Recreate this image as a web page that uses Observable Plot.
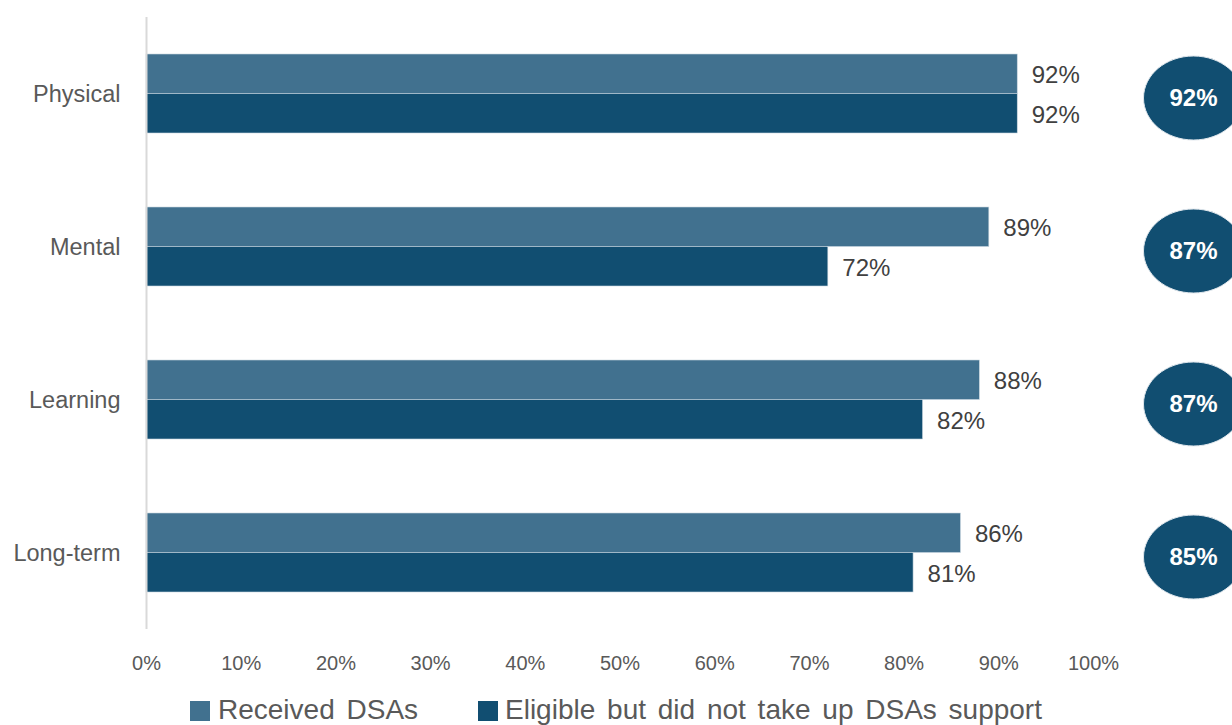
<!DOCTYPE html>
<html>
<head>
<meta charset="utf-8">
<script src="https://cdn.jsdelivr.net/npm/d3@7"></script>
<script src="https://cdn.jsdelivr.net/npm/@observablehq/plot@0.6"></script>
<style>
  html, body { margin: 0; padding: 0; background: #fff; overflow: hidden; }
  #wrap { position: relative; width: 1232px; height: 725px; font-family: "Liberation Sans", Arial, sans-serif; }
  #legend { position: absolute; left: 0; top: 690px; width: 1232px; height: 40px; color: #595959; font-size: 28px; word-spacing: 4px; }
  #legend .sw { position: absolute; top: 11px; width: 20px; height: 20px; }
  #legend .lb { position: absolute; top: 0; line-height: 40px; white-space: nowrap; }
</style>
</head>
<body>
<div id="wrap">
  <div id="chart"></div>
  <div id="legend"></div>
</div>
<script>
const categories = ["Physical", "Mental", "Learning", "Long-term"];
const received = [92, 89, 88, 86];
const eligible = [92, 72, 82, 81];
const overall = [92, 87, 87, 85];
const seriesNames = ["Received DSAs", "Eligible but did not take up DSAs support"];
const seriesColors = ["#41718F", "#114E71"];
const xTicks = [0, 10, 20, 30, 40, 50, 60, 70, 80, 90, 100];

const rows = categories.map((c, i) => ({category: c, received: received[i], eligible: eligible[i], overall: overall[i]}));

const rx = 50, ry = 42, k = 0.5523;
const ellipse = {
  draw(ctx) {
    ctx.moveTo(rx, 0);
    ctx.bezierCurveTo(rx, ry * k, rx * k, ry, 0, ry);
    ctx.bezierCurveTo(-rx * k, ry, -rx, ry * k, -rx, 0);
    ctx.bezierCurveTo(-rx, -ry * k, -rx * k, -ry, 0, -ry);
    ctx.bezierCurveTo(rx * k, -ry, rx, -ry * k, rx, 0);
    ctx.closePath();
  }
};

const plot = Plot.plot({
  width: 1232,
  height: 690,
  marginTop: 17,
  marginBottom: 61,
  marginLeft: 146,
  marginRight: 139,
  style: {fontFamily: "'Liberation Sans', Arial, sans-serif", background: "#fff", overflow: "hidden"},
  x: {domain: [0, 100], ticks: xTicks, tickFormat: d => d + "%", tickSize: 0, tickPadding: 26, label: null},
  y: {domain: categories, paddingInner: 0.484, paddingOuter: 0.242, tickSize: 0, tickPadding: 26, label: null},
  marks: [
    Plot.axisX({ticks: xTicks, tickFormat: d => d + "%", tickSize: 0, tickPadding: 26, fontSize: 20, color: "#595959", label: null}),
    Plot.axisY({tickSize: 0, tickPadding: 26, fontSize: 23.5, color: "#595959", label: null}),
    Plot.barX(rows, {x: "received", y: "category", fill: seriesColors[0], insetBottom: 39.5, stroke: "#c9d6df", strokeWidth: 0.6}),
    Plot.barX(rows, {x: "eligible", y: "category", fill: seriesColors[1], insetTop: 39.5, stroke: "#c9d6df", strokeWidth: 0.6}),
    Plot.ruleX([0], {stroke: "#d9d9d9", strokeWidth: 2}),
    Plot.text(rows, {x: "received", y: "category", text: d => d.received + "%", dx: 14, dy: -19, textAnchor: "start", fill: "#404040", fontSize: 24}),
    Plot.text(rows, {x: "eligible", y: "category", text: d => d.eligible + "%", dx: 14, dy: 21, textAnchor: "start", fill: "#404040", fontSize: 24}),
    Plot.dot(rows, {x: d => 100, y: "category", dx: 100, dy: 4, symbol: ellipse, fill: seriesColors[1], stroke: "#dfe6ec", strokeWidth: 1}),
    Plot.text(rows, {x: d => 100, y: "category", dx: 100, dy: 4, text: d => d.overall + "%", fill: "#fff", fontWeight: "bold", fontSize: 24})
  ]
});
document.getElementById("chart").appendChild(plot);

const legend = document.getElementById("legend");
const legendPos = [[190, 218], [478, 505]];
seriesNames.forEach((name, i) => {
  const sw = document.createElement("div");
  sw.className = "sw";
  sw.style.left = legendPos[i][0] + "px";
  sw.style.background = seriesColors[i];
  legend.appendChild(sw);
  const lb = document.createElement("div");
  lb.className = "lb";
  lb.style.left = legendPos[i][1] + "px";
  lb.textContent = name;
  legend.appendChild(lb);
});
</script>
</body>
</html>
